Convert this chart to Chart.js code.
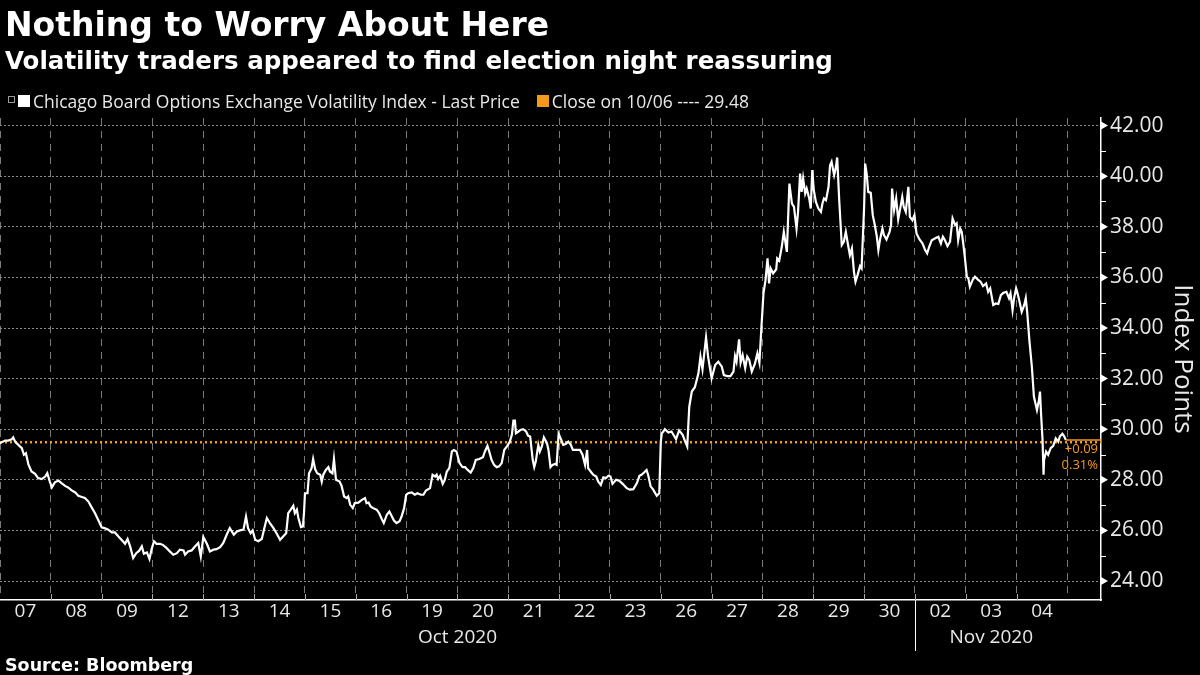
<!DOCTYPE html>
<html>
<head>
<meta charset="utf-8">
<script src="https://cdn.jsdelivr.net/npm/chart.js@4.4.1/dist/chart.umd.min.js"></script>
<style>
  html, body { margin: 0; padding: 0; background: #000; }
  #wrap { position: relative; width: 1200px; height: 675px; background: #000; overflow: hidden; }
  #chart { position: absolute; left: 0; top: 0; }
  .txt { position: absolute; color: #fff; white-space: nowrap; line-height: 1; }
  #title { left: 5px; top: 5px; font: bold 33px "DejaVu Sans", sans-serif; }
  #subtitle { left: 5px; top: 46px; font: bold 24.5px "DejaVu Sans", sans-serif; }
  #source { left: 5px; top: 655px; font: bold 17.5px "DejaVu Sans", sans-serif; }
  #legend { left: 8px; top: 89px; font: 17.5px "Open Sans", sans-serif; color: #e8e8e8; display: flex; align-items: center; }
  .box { display: inline-block; width: 12px; height: 12px; margin-right: 3px; }
  .fold { display: inline-block; width: 5px; height: 5px; border: 1px solid #999; margin-right: 3px; position: relative; top: -2px; }
</style>
</head>
<body>
<div id="wrap">
  <canvas id="chart" width="1200" height="675"></canvas>
  <div class="txt" id="title">Nothing to Worry About Here</div>
  <div class="txt" id="subtitle">Volatility traders appeared to find election night reassuring</div>
  <div class="txt" id="legend">
    <span class="fold"></span><span class="box" style="background:#fff"></span>
    <span>Chicago Board Options Exchange Volatility Index - Last Price</span>
    <span class="box" style="background:#f39a1e; margin-left:17px"></span>
    <span id="closeText"></span>
  </div>
  <div class="txt" id="source">Source: Bloomberg</div>
</div>
<script>
// trading days shown on the x axis (one unit = one session)
const dayLabels = ['07', '08', '09', '12', '13', '14', '15', '16', '19', '20', '21',
  '22', '23', '26', '27', '28', '29', '30', '02', '03', '04'];
const monthNames = ['Oct 2020', 'Nov 2020'];

// VIX intraday, time in sessions since the open of Oct 07
const vixTimes = [
  0.00, 0.10, 0.16, 0.23, 0.26, 0.30, 0.36, 0.43, 0.47, 0.51, 0.56, 0.62, 0.69, 0.75, 0.82, 0.89, 0.93, 0.98,
  1.02, 1.08, 1.15, 1.21, 1.28, 1.34, 1.41, 1.48, 1.54, 1.61, 1.67, 1.74, 1.80, 1.87, 1.93,
  2.00, 2.07, 2.13, 2.20, 2.26, 2.33, 2.39, 2.46, 2.51, 2.56, 2.62, 2.68, 2.74, 2.79, 2.83, 2.89, 2.94, 2.98,
  3.03, 3.08, 3.15, 3.21, 3.28, 3.34, 3.41, 3.48, 3.54, 3.61, 3.64, 3.70, 3.77, 3.84, 3.90, 3.95,
  4.00, 4.07, 4.13, 4.20, 4.26, 4.33, 4.39, 4.46, 4.52, 4.56, 4.60, 4.66, 4.72, 4.79, 4.84, 4.88, 4.93, 4.97,
  5.02, 5.08, 5.15, 5.20, 5.25, 5.31, 5.38, 5.44, 5.51, 5.57, 5.63, 5.67, 5.72, 5.77, 5.80, 5.84, 5.87, 5.92, 5.96, 5.98,
  6.00, 6.05, 6.08, 6.13, 6.16, 6.20, 6.24, 6.30, 6.33, 6.36, 6.41, 6.46, 6.49, 6.54, 6.57, 6.61, 6.68, 6.72, 6.77,
  6.82, 6.85, 6.89, 6.94, 6.98,
  7.05, 7.12, 7.18, 7.21, 7.25, 7.29, 7.34, 7.41, 7.46, 7.51, 7.55, 7.61, 7.66, 7.71, 7.75, 7.80, 7.86, 7.90, 7.95, 7.99,
  8.03, 8.10, 8.16, 8.21, 8.28, 8.33, 8.38, 8.46, 8.51, 8.56, 8.59, 8.62, 8.66, 8.71, 8.75, 8.79, 8.84, 8.89, 8.93, 8.98,
  9.04, 9.10, 9.15, 9.20, 9.26, 9.31, 9.36, 9.43, 9.50, 9.54, 9.59, 9.63, 9.67, 9.72, 9.77, 9.82, 9.87, 9.92, 9.98,
  10.03, 10.07, 10.10, 10.13, 10.15, 10.20, 10.24, 10.29, 10.35, 10.39, 10.43, 10.48, 10.51, 10.54, 10.59, 10.62,
  10.66, 10.70, 10.76, 10.79, 10.83, 10.87, 10.92, 10.95, 10.99,
  11.03, 11.08, 11.13, 11.18, 11.23, 11.27, 11.33, 11.41, 11.46, 11.51, 11.55, 11.57, 11.62, 11.67, 11.73, 11.77,
  11.82, 11.87, 11.92, 11.97,
  12.01, 12.05, 12.12, 12.18, 12.25, 12.33, 12.39, 12.46, 12.53, 12.58, 12.62, 12.67, 12.72, 12.75, 12.80, 12.85,
  12.92, 12.97,
  13.00, 13.02, 13.05, 13.08, 13.15, 13.21, 13.30, 13.36, 13.43, 13.48, 13.52, 13.56, 13.61, 13.67, 13.74, 13.78,
  13.82, 13.89, 13.93,
  14.00, 14.07, 14.13, 14.20, 14.24, 14.31, 14.37, 14.43, 14.46, 14.49, 14.54, 14.57, 14.61, 14.66, 14.70, 14.74,
  14.79, 14.85, 14.90, 14.94, 14.98,
  15.02, 15.06, 15.10, 15.13, 15.16, 15.21, 15.27, 15.29, 15.33, 15.38, 15.42, 15.48, 15.53, 15.58, 15.62, 15.67,
  15.70, 15.74, 15.77, 15.80, 15.84, 15.87, 15.92, 15.95, 15.98,
  16.01, 16.05, 16.10, 16.15, 16.18, 16.21, 16.25, 16.30, 16.33, 16.36, 16.41, 16.44, 16.47, 16.51, 16.56, 16.60,
  16.64, 16.69, 16.72, 16.76, 16.80, 16.83, 16.87, 16.92, 16.95,
  17.00, 17.02, 17.05, 17.08, 17.13, 17.17, 17.21, 17.25, 17.28, 17.31, 17.36, 17.39, 17.44, 17.50, 17.53, 17.55,
  17.59, 17.63, 17.67, 17.71, 17.75, 17.78, 17.82, 17.87, 17.90, 17.95, 17.99,
  18.03, 18.09, 18.15, 18.20, 18.24, 18.28, 18.33, 18.39, 18.46, 18.51, 18.55, 18.59, 18.64, 18.69, 18.74, 18.79,
  18.82, 18.85, 18.89, 18.92, 18.95, 18.98,
  19.02, 19.05, 19.08, 19.14, 19.18, 19.25, 19.29, 19.34, 19.40, 19.44, 19.48, 19.51, 19.54, 19.59, 19.64, 19.69,
  19.74, 19.80, 19.85, 19.88, 19.92, 19.95, 19.99,
  20.01, 20.05, 20.10, 20.15, 20.18, 20.21, 20.25, 20.30, 20.34, 20.40, 20.44, 20.46, 20.48, 20.51, 20.53, 20.54,
  20.58, 20.62, 20.67, 20.72, 20.77, 20.82, 20.85, 20.90, 20.93, 20.97
];

const vixValues = [
  29.45, 29.55, 29.55, 29.60, 29.68, 29.50, 29.38, 29.25, 28.99, 29.05, 28.60, 28.33, 28.24, 28.07, 28.03, 28.13, 28.26, 27.93,
  27.70, 27.90, 27.97, 27.87, 27.76, 27.70, 27.58, 27.50, 27.37, 27.32, 27.28, 27.14, 26.92, 26.68, 26.42,
  26.12, 26.08, 26.03, 25.92, 25.92, 25.76, 25.63, 25.47, 25.66, 25.37, 24.91, 25.10, 25.20, 25.37, 25.08, 25.13, 24.87, 25.24,
  25.57, 25.47, 25.47, 25.42, 25.30, 25.17, 25.04, 25.10, 25.24, 25.21, 25.04, 25.17, 25.21, 25.37, 25.50, 24.97,
  25.74, 25.47, 25.17, 25.24, 25.26, 25.34, 25.50, 25.83, 26.09, 25.96, 25.83, 25.96, 26.00, 26.03, 26.55, 26.09, 25.89, 26.00,
  25.63, 25.57, 25.66, 26.09, 26.49, 26.29, 26.09, 25.89, 25.63, 25.76, 25.89, 26.68, 26.82, 26.97, 26.68, 26.82, 26.49, 26.13, 26.16, 26.68,
  27.47, 27.47, 28.26, 28.46, 28.82, 28.42, 28.26, 28.20, 27.93, 28.20, 28.39, 28.50, 28.33, 28.26, 28.82, 28.00, 27.93, 27.76, 27.34,
  27.28, 27.34, 27.01, 26.88, 27.08,
  27.10, 27.21, 27.28, 27.08, 27.10, 26.95, 26.88, 26.82, 26.68, 26.45, 26.29, 26.62, 26.75, 26.55, 26.39, 26.29, 26.36, 26.55, 26.88, 27.41,
  27.47, 27.50, 27.41, 27.47, 27.41, 27.41, 27.58, 27.67, 28.20, 28.13, 28.20, 28.03, 28.16, 27.84, 28.00, 28.33, 28.46, 29.12, 29.18, 29.12,
  28.66, 28.50, 28.50, 28.39, 28.29, 28.46, 28.79, 28.82, 28.89, 29.12, 29.34, 29.08, 28.79, 28.59, 28.50, 28.53, 28.66, 29.18, 29.34,
  29.51, 29.78, 30.34, 30.34, 29.84, 29.91, 29.97, 30.00, 29.91, 29.74, 29.71, 28.79, 28.50, 28.72, 29.38, 29.12,
  29.32, 29.68, 29.45, 29.18, 28.50, 28.59, 28.63, 28.59, 29.82,
  29.64, 29.38, 29.41, 29.51, 29.38, 29.18, 29.18, 29.18, 28.99, 28.59, 29.18, 28.46, 28.33, 28.20, 28.13, 27.93,
  27.80, 28.10, 28.07, 28.16,
  28.13, 27.84, 28.00, 27.97, 27.84, 27.67, 27.61, 27.63, 27.87, 28.16, 28.20, 28.29, 28.39, 28.20, 27.74, 27.61,
  27.37, 27.47,
  29.51, 29.84, 29.91, 30.00, 29.87, 29.91, 29.61, 29.95, 29.78, 29.51, 29.32, 30.89, 31.49, 31.66, 32.21, 32.87,
  32.37, 33.63, 32.87,
  32.01, 32.54, 32.67, 32.47, 32.14, 32.10, 32.10, 32.28, 32.89, 32.67, 33.55, 32.63, 32.93, 32.41, 32.87, 32.74,
  32.28, 32.58, 33.00, 32.63, 34.05,
  35.37, 35.89, 36.75, 35.76, 36.36, 36.16, 36.32, 36.75, 36.66, 37.21, 37.80, 37.01, 39.71, 38.92, 38.79, 37.93,
  38.59, 40.10, 39.38, 39.91, 39.32, 39.51, 39.12, 38.72, 40.24,
  39.45, 38.99, 38.72, 38.59, 38.92, 39.12, 39.05, 39.58, 40.43, 40.57, 40.04, 40.30, 40.74, 39.05, 37.28, 37.41,
  37.80, 37.21, 36.88, 37.14, 36.22, 35.83, 36.09, 36.45, 36.36,
  38.79, 40.50, 40.10, 39.38, 39.34, 38.46, 38.07, 37.61, 37.08, 37.47, 37.93, 37.67, 37.50, 37.80, 38.07, 39.51,
  38.66, 39.12, 38.29, 38.72, 39.18, 38.79, 38.59, 39.58, 38.39, 38.26, 38.46,
  37.74, 37.50, 37.34, 37.08, 36.95, 37.21, 37.47, 37.54, 37.61, 37.34, 37.61, 37.47, 37.24, 37.41, 38.33, 38.07,
  38.13, 37.47, 37.93, 37.80, 37.34, 36.82,
  36.03, 35.96, 35.63, 35.92, 36.03, 35.89, 35.83, 35.66, 35.76, 35.43, 35.57, 35.24, 34.91, 34.97, 34.95, 35.30,
  35.39, 35.43, 35.18, 35.37, 34.71, 35.18, 35.57,
  35.43, 35.11, 34.64, 34.91, 35.18, 34.58, 33.53, 32.47, 31.29, 30.76, 31.16, 31.49, 30.63, 29.58, 28.20, 28.79,
  29.12, 28.99, 29.25, 29.34, 29.64, 29.51, 29.71, 29.82, 29.74, 29.57
];

const closeDate = '10/06';
const closeValue = 29.48;
const yTicks = [24, 26, 28, 30, 32, 34, 36, 38, 40, 42];

const X_MAX = 21.66;
const ORANGE = '#f39a1e';
const lastValue = vixValues[vixValues.length - 1];
const lastTime = vixTimes[vixTimes.length - 1];
const change = lastValue - closeValue;
const changePct = change / closeValue * 100;

document.getElementById('closeText').textContent = 'Close on ' + closeDate + ' ---- ' + closeValue.toFixed(2);

// month spans: a new month starts where the day number drops
const monthSpans = [];
dayLabels.forEach((d, i) => {
  if (i === 0 || parseInt(d, 10) < parseInt(dayLabels[i - 1], 10)) {
    monthSpans.push({ start: i, end: i + 1 });
  } else {
    monthSpans[monthSpans.length - 1].end = i + 1;
  }
});

const extras = {
  id: 'extras',
  afterDraw(chart) {
    const { ctx, chartArea } = chart;
    const xs = chart.scales.x;
    const ys = chart.scales.y;
    ctx.save();

    // y axis markers: triangles on majors, small ticks on odd values
    ctx.fillStyle = '#fff';
    ctx.strokeStyle = '#fff';
    ctx.lineWidth = 1;
    yTicks.forEach(v => {
      const py = ys.getPixelForValue(v);
      ctx.beginPath();
      ctx.moveTo(chartArea.right, py - 4);
      ctx.lineTo(chartArea.right + 7, py);
      ctx.lineTo(chartArea.right, py + 4);
      ctx.closePath();
      ctx.fill();
      if (v + 1 < ys.max) {
        const pm = Math.round(ys.getPixelForValue(v + 1)) + 0.5;
        ctx.beginPath();
        ctx.moveTo(chartArea.right, pm);
        ctx.lineTo(chartArea.right + 5, pm);
        ctx.stroke();
      }
    });

    // small day ticks just above the x axis line
    dayLabels.forEach((_, i) => {
      if (i === 0) return;
      const px = Math.round(xs.getPixelForValue(i)) + 0.5;
      ctx.beginPath();
      ctx.moveTo(px, chartArea.bottom - 6);
      ctx.lineTo(px, chartArea.bottom);
      ctx.strokeStyle = '#aaa';
      ctx.stroke();
    });
    ctx.strokeStyle = '#fff';

    // month separators and labels
    ctx.font = '19px "Open Sans", sans-serif';
    ctx.textAlign = 'center';
    ctx.textBaseline = 'middle';
    ctx.fillStyle = '#e8e8e8';
    monthSpans.forEach((m, i) => {
      const mid = xs.getPixelForValue((m.start + m.end) / 2);
      ctx.fillText(monthNames[i], mid, 638);
      if (i > 0) {
        const px = Math.round(xs.getPixelForValue(m.start)) + 0.5;
        ctx.beginPath();
        ctx.moveTo(px, chartArea.bottom);
        ctx.lineTo(px, 651);
        ctx.stroke();
      }
    });

    // change versus the close
    const cy = ys.getPixelForValue(closeValue);
    ctx.font = '13px "Open Sans", sans-serif';
    ctx.textAlign = 'right';
    ctx.fillStyle = ORANGE;
    ctx.fillText((change >= 0 ? '+' : '') + change.toFixed(2), chartArea.right - 3, cy + 7);
    ctx.fillText(changePct.toFixed(2) + '%', chartArea.right - 3, cy + 23);
    ctx.restore();
  }
};

new Chart(document.getElementById('chart'), {
  type: 'line',
  data: {
    datasets: [
      {
        label: 'VIX',
        data: vixTimes.map((t, i) => ({ x: t, y: vixValues[i] })),
        borderColor: '#fff',
        borderWidth: 2.2,
        pointRadius: 0,
        tension: 0,
        order: 1
      },
      {
        label: 'Close',
        data: [{ x: 0, y: closeValue }, { x: X_MAX, y: closeValue }],
        borderColor: ORANGE,
        borderWidth: 2.5,
        borderDash: [2, 3],
        pointRadius: 0,
        order: 2
      },
      {
        label: 'Last',
        data: [{ x: lastTime, y: lastValue }, { x: X_MAX, y: lastValue }],
        borderColor: ORANGE,
        borderWidth: 1.5,
        pointRadius: 0,
        order: 0
      }
    ]
  },
  options: {
    responsive: false,
    animation: false,
    layout: { padding: { top: 118, left: 0, right: 0, bottom: 0 } },
    plugins: {
      legend: { display: false },
      tooltip: { enabled: false }
    },
    scales: {
      x: {
        type: 'linear',
        min: 0,
        max: X_MAX,
        afterBuildTicks: axis => { axis.ticks = dayLabels.map((_, i) => ({ value: i })).concat([{ value: dayLabels.length }]); },
        afterFit: axis => { axis.height = 0; },
        ticks: { display: false },
        grid: { color: '#7a7a7a', lineWidth: 1, drawTicks: false },
        border: { display: true, color: '#fff', width: 1.5, dash: [7, 6] }
      },
      xl: {
        type: 'linear',
        position: 'bottom',
        min: 0,
        max: X_MAX,
        afterBuildTicks: axis => { axis.ticks = dayLabels.map((_, i) => ({ value: i + 0.5 })); },
        afterFit: axis => { axis.height = 75; },
        ticks: {
          autoSkip: false,
          maxRotation: 0,
          color: '#e8e8e8',
          font: { family: 'Open Sans', size: 19 },
          padding: 0,
          callback: (v, i) => dayLabels[i]
        },
        grid: { display: false, drawTicks: false },
        border: { display: false }
      },
      y: {
        type: 'linear',
        position: 'right',
        min: 23.25,
        max: 42.3,
        afterBuildTicks: axis => { axis.ticks = yTicks.map(v => ({ value: v })); },
        afterFit: axis => { axis.width = 99; },
        ticks: {
          color: '#e8e8e8',
          font: { family: 'Open Sans', size: 21 },
          padding: 9,
          callback: v => v.toFixed(2)
        },
        grid: { color: '#8a8a8a', lineWidth: 1, drawTicks: false },
        border: { display: true, color: '#fff', width: 1.5, dash: [2, 2] },
        title: {
          display: true,
          text: 'Index Points',
          color: '#e8e8e8',
          font: { family: 'Open Sans', size: 26 },
          padding: { top: 2, bottom: 0 }
        }
      }
    }
  },
  plugins: [extras]
});
</script>
</body>
</html>
